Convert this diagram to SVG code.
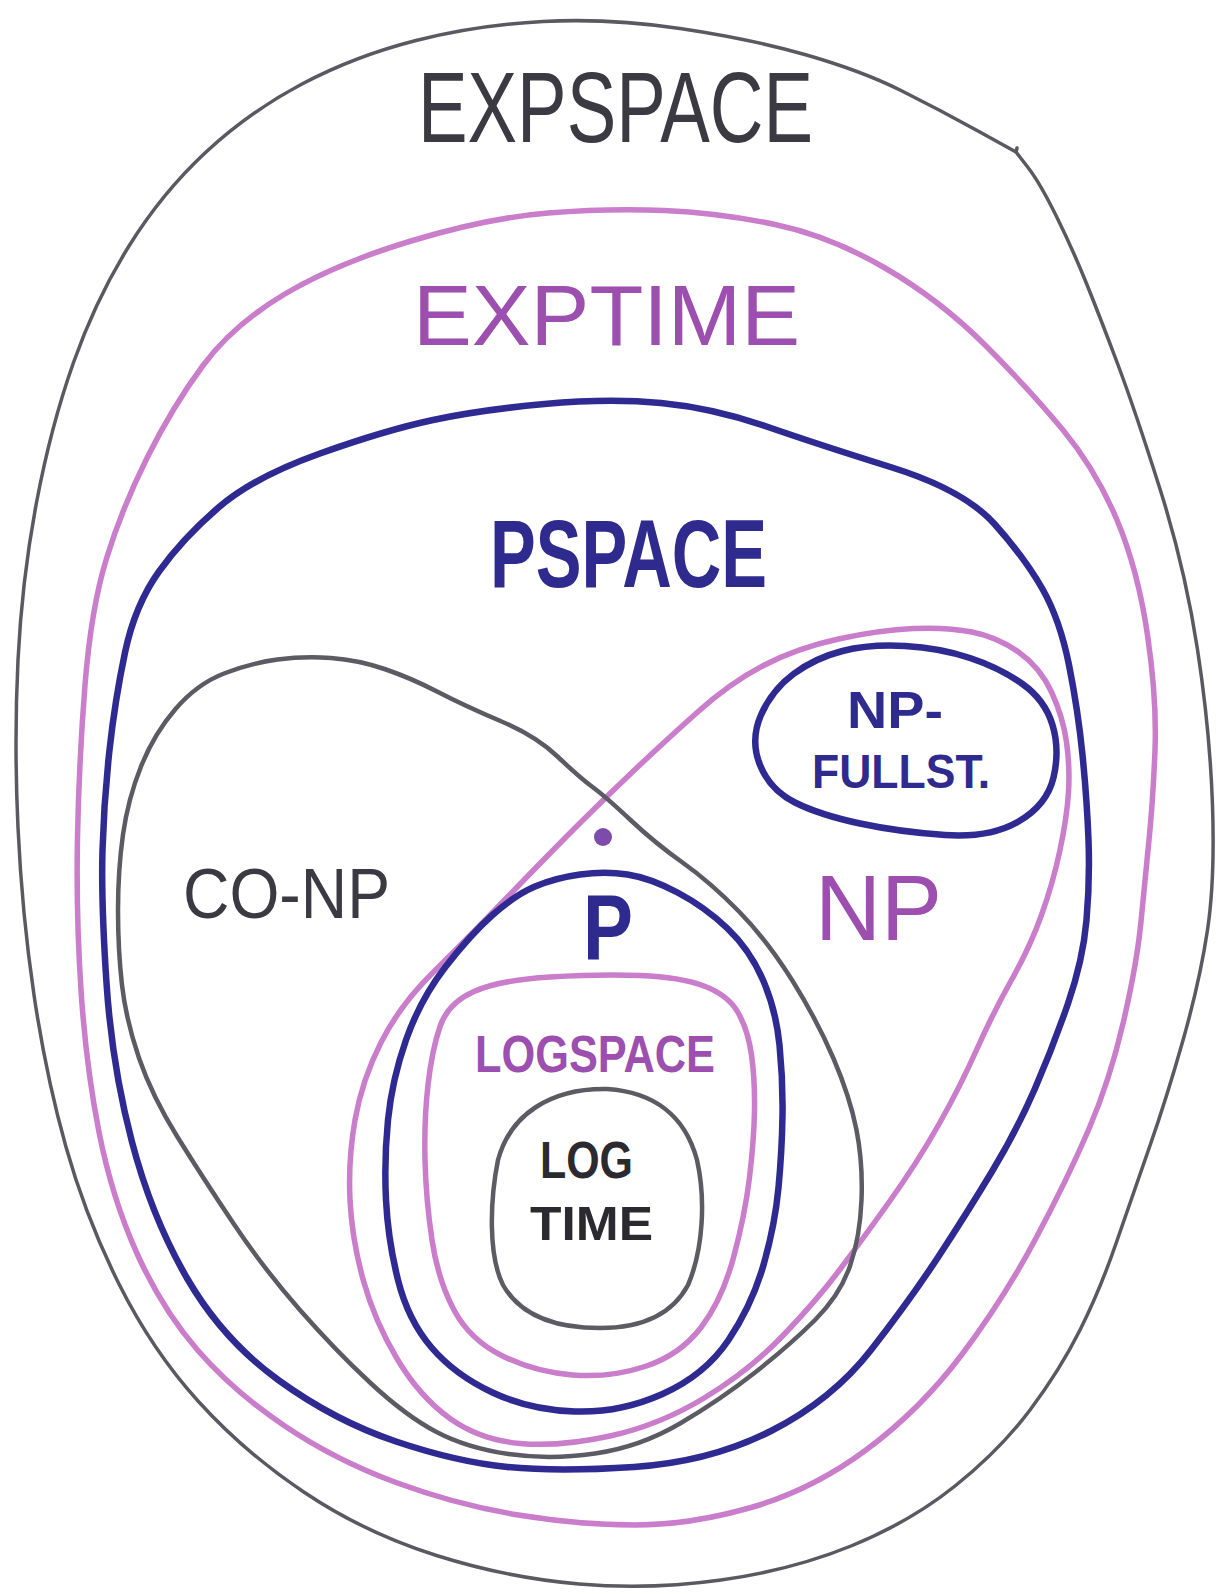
<svg xmlns="http://www.w3.org/2000/svg" width="1219" height="1592" viewBox="0 0 1219 1592">
<style>
.ln{fill:none;stroke-linecap:round;stroke-linejoin:round}
.gray{stroke:#5a5860;stroke-width:3.5}
.gray2{stroke:#5c5a62;stroke-width:4.5}
.pink{stroke:#c97dca;stroke-width:5.5}
.blue{stroke:#2e2a92;stroke-width:6.5}
.t{font-family:"Liberation Sans",Arial,sans-serif;}
.tg{fill:#3b3942}
.tp{fill:#9c4fae}
.tb{fill:#2e2a8e;font-weight:bold}
</style>
<rect width="1219" height="1592" fill="#ffffff"/>

<g id="expspace">
<path class="ln gray" d="M1016,152 L978,131 Q940,110 901,90.5 Q862,71 806.5,55 Q751,39 680,28.5 Q609,18 543,21.5 Q477,25 416,40.5 Q355,56 302,84 Q249,112 205.5,152.5 Q162,193 129,246 Q96,299 73.5,362.5 Q51,426 36.5,502.5 Q22,579 18,660 Q14,741 18,827.5 Q22,914 34,995 Q46,1076 66,1147 Q86,1218 119,1284 Q152,1350 198,1401 Q244,1452 304.5,1492.5 Q365,1533 436.5,1555.5 Q508,1578 579,1584 Q650,1590 721,1580 Q792,1570 851,1546 Q910,1522 955,1486 Q1000,1450 1030,1410 Q1060,1370 1080,1330 Q1100,1290 1116,1243.5 Q1132,1197 1149.5,1147 Q1167,1097 1183.5,1038.5 Q1200,980 1207.5,930 Q1215,880 1212.5,805.5 Q1210,731 1197.5,649.5 Q1185,568 1160,489 Q1135,410 1117.5,363.5 Q1100,317 1086.5,283.5 Q1073,250 1056.5,216.5 Q1040,183 1028,167.5 L1016,152 l1,-4"/>
<text class="t tg" x="418" y="142" font-size="100" textLength="395" lengthAdjust="spacingAndGlyphs">EXPSPACE</text>
</g>

<g id="exptime">
<path class="ln pink" d="M548,213 Q609,208 664.5,210.5 Q720,213 775,224.5 Q830,236 885,268 Q940,300 985,345 Q1030,390 1063,430 Q1096,470 1117,520 Q1138,570 1147.5,635 Q1157,700 1155,750 Q1153,800 1149,840 Q1145,880 1141,921.5 Q1137,963 1123.5,1021.5 Q1110,1080 1088.5,1130 Q1067,1180 1035,1240 Q1003,1300 961.5,1355 Q920,1410 866,1450 Q812,1490 751,1507.5 Q690,1525 635,1525 Q580,1525 518.5,1515 Q457,1505 396,1482.5 Q335,1460 284,1425.5 Q233,1391 197.5,1350 Q162,1309 137,1253.5 Q112,1198 99,1132 Q86,1066 81,990 Q76,914 77.5,837.5 Q79,761 85,685 Q91,609 106.5,558.5 Q122,508 147.5,457 Q173,406 203,365.5 Q233,325 284,294.5 Q335,264 411,241 Q487,218 548,213 Z"/>
<text class="t tp" x="413" y="345" font-size="86" textLength="387" lengthAdjust="spacingAndGlyphs">EXPTIME</text>
</g>

<g id="pspace">
<path class="ln blue" d="M544.5,404 Q609,398 661,403 Q713,408 766.5,426.5 Q820,445 892,467.5 Q964,490 994.5,524 Q1025,558 1042.5,589 Q1060,620 1069,665 Q1078,710 1082.5,755 Q1087,800 1088.5,840 Q1090,880 1086.5,920 Q1083,960 1068,1003.5 Q1053,1047 1035,1088.5 Q1017,1130 992,1171.5 Q967,1213 938.5,1256.5 Q910,1300 871,1350 Q832,1400 771,1431 Q710,1462 634,1467 Q558,1472 507.5,1467 Q457,1462 396,1441.5 Q335,1421 279,1380.5 Q223,1340 187.5,1279 Q152,1218 132,1142 Q112,1066 106.5,983 Q101,900 102.5,850 Q104,800 109.5,750 Q115,700 125,652.5 Q135,605 159,571.5 Q183,538 218.5,507.5 Q254,477 320,453.5 Q386,430 433,420 Q480,410 544.5,404 Z"/>
<text class="t tb" x="490" y="587" font-size="96" textLength="277" lengthAdjust="spacingAndGlyphs">PSPACE</text>
</g>

<g id="np">
<path class="ln pink" d="M578,825 Q606,797 634.5,770 Q663,743 696.5,713 Q730,683 763.5,665.5 Q797,648 838.5,639 Q880,630 913.5,628.5 Q947,627 972,632 Q997,637 1018.5,652 Q1040,667 1051.5,692 Q1063,717 1066.5,742 Q1070,767 1068.5,792 Q1067,817 1060,850 Q1053,883 1041.5,915 Q1030,947 1011.5,980 Q993,1013 976.5,1050 Q960,1087 938.5,1125 Q917,1163 889.5,1201.5 Q862,1240 839.5,1270 Q817,1300 783.5,1335 Q750,1370 705,1397.5 Q660,1425 610,1436 Q560,1447 520,1443.5 Q480,1440 450,1418.5 Q420,1397 397.5,1359.5 Q375,1322 363.5,1281 Q352,1240 350,1200 Q348,1160 355,1120 Q362,1080 381,1042.5 Q400,1005 432.5,973 Q465,941 507.5,897 Q550,853 578,825 Z"/>
<text class="t tp" x="815" y="940" font-size="93" textLength="127" lengthAdjust="spacingAndGlyphs">NP</text>
</g>

<g id="conp">
<path class="ln gray2" d="M630.5,820 Q606,797 592.5,787 Q579,777 557.5,756.5 Q536,736 500.5,721 Q465,706 438,692 Q411,678 384.5,669 Q358,660 331,658 Q304,656 277.5,659.5 Q251,663 224,673.5 Q197,684 175.5,709 Q154,734 141,766.5 Q128,799 123,834.5 Q118,870 118,910 Q118,950 122,985 Q126,1020 139,1058 Q152,1096 177.5,1137 Q203,1178 233.5,1223.5 Q264,1269 299.5,1309.5 Q335,1350 370.5,1383 Q406,1416 436.5,1432 Q467,1448 508.5,1454 Q550,1460 595,1453.5 Q640,1447 680,1423.5 Q720,1400 755,1372.5 Q790,1345 815,1320 Q840,1295 850,1266 Q860,1237 861.5,1200 Q863,1163 856.5,1130 Q850,1097 833.5,1058.5 Q817,1020 792,980 Q767,940 738.5,911 Q710,882 682.5,862.5 Q655,843 630.5,820 Z"/>
<text class="t tg" x="183" y="918" font-size="70" textLength="207" lengthAdjust="spacingAndGlyphs">CO-NP</text>
</g>

<g id="np-complete">
<path class="ln blue" d="M842.5,651 Q870,644 905,646 Q940,648 970,658 Q1000,668 1022.5,684 Q1045,700 1052.5,725 Q1060,750 1053.5,777.5 Q1047,805 1018.5,821.5 Q990,838 945,835 Q900,832 860,823.5 Q820,815 795,802.5 Q770,790 760,765 Q750,740 761,715 Q772,690 793.5,674 Q815,658 842.5,651 Z"/>
<text class="t tb" x="847" y="728" font-size="51" textLength="96" lengthAdjust="spacingAndGlyphs">NP-</text>
<text class="t tb" x="812" y="788" font-size="49" textLength="178" lengthAdjust="spacingAndGlyphs">FULLST.</text>
</g>

<g id="p">
<path class="ln blue" d="M580,874.5 Q605,871 627.5,874.5 Q650,878 677.5,892.5 Q705,907 727.5,928.5 Q750,950 763,980 Q776,1010 779.5,1045 Q783,1080 782.5,1115 Q782,1150 778.5,1187.5 Q775,1225 763.5,1265 Q752,1305 728.5,1340 Q705,1375 662.5,1394 Q620,1413 575,1411.5 Q530,1410 492.5,1392.5 Q455,1375 431.5,1347.5 Q408,1320 398,1280 Q388,1240 386,1200 Q384,1160 388,1120 Q392,1080 406,1040 Q420,1000 445,967.5 Q470,935 492.5,915 Q515,895 535,886.5 Q555,878 580,874.5 Z"/>
<text class="t tb" x="583" y="960" font-size="93" textLength="50" lengthAdjust="spacingAndGlyphs">P</text>
</g>

<g id="dot">
<circle cx="603" cy="837" r="9" fill="#7d4bab"/>
</g>

<g id="logspace">
<path class="ln pink" d="M550,977 Q600,974 640,975.5 Q680,977 704,986 Q728,995 738,1012.5 Q748,1030 751.5,1055 Q755,1080 754.5,1110 Q754,1140 749.5,1177.5 Q745,1215 733.5,1257.5 Q722,1300 701,1327.5 Q680,1355 645,1366.5 Q610,1378 572.5,1375 Q535,1372 502.5,1356 Q470,1340 454,1310 Q438,1280 432,1240 Q426,1200 425,1160 Q424,1120 428,1085 Q432,1050 440,1026.5 Q448,1003 474,991.5 Q500,980 550,977 Z"/>
<text class="t tp" font-weight="bold" x="475" y="1072" font-size="52" textLength="240" lengthAdjust="spacingAndGlyphs">LOGSPACE</text>
</g>

<g id="logtime">
<path class="ln gray2" d="M607,1089 C653,1092 685,1115 697,1160 C706,1200 703,1250 688,1285 C672,1315 640,1328 600,1328 C555,1328 520,1315 503,1285 C488,1255 490,1200 498,1160 C510,1115 550,1088 607,1089 Z"/>
<text class="t" fill="#2b2a30" font-weight="bold" x="540" y="1178" font-size="51" textLength="93" lengthAdjust="spacingAndGlyphs">LOG</text>
<text class="t" fill="#2b2a30" font-weight="bold" x="530" y="1240" font-size="49" textLength="123" lengthAdjust="spacingAndGlyphs">TIME</text>
</g>
</svg>
